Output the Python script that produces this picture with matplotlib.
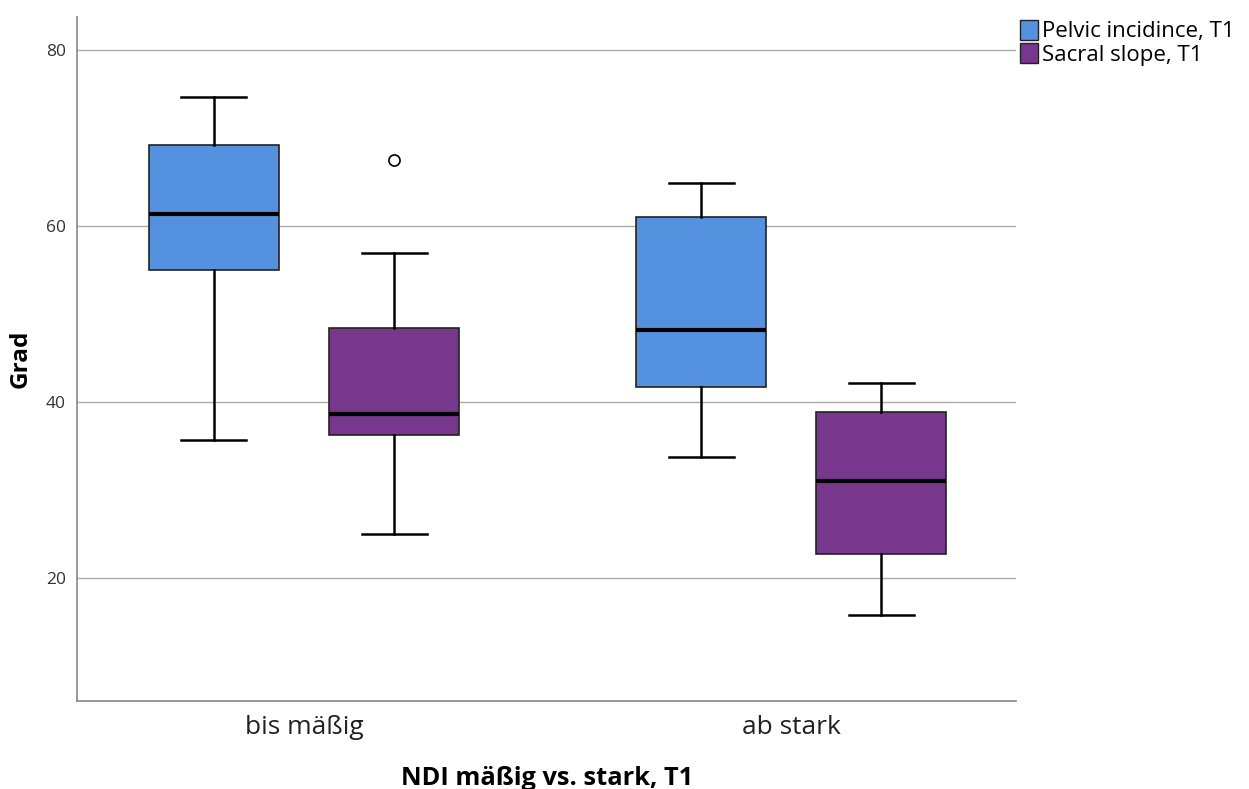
import matplotlib
matplotlib.use('Agg')
from matplotlib import pyplot as plt
from matplotlib.patches import Patch

# values (degrees)
categories = ['bis mäßig', 'ab stark']
series = ['Pelvic incidince, T1', 'Sacral slope, T1']
colors = ['#5492E0', '#76378D']

# per series: one entry per category
whislo = [[35.7, 33.7], [25.0, 15.8]]
q1 = [[55.0, 41.7], [36.2, 22.7]]
med = [[61.3, 48.2], [38.6, 31.0]]
q3 = [[69.2, 61.0], [48.4, 38.8]]
whishi = [[74.6, 64.9], [56.9, 42.2]]
fliers = [[[], []], [[67.5], []]]

yticks = [20, 40, 60, 80]

plt.rcParams['font.family'] = ['Open Sans', 'DejaVu Sans']

fig = plt.figure(figsize=(12.49, 7.89), dpi=100)
ax = fig.add_axes([0.0617, 0.1115, 0.752, 0.867])

offsets = [-0.185, 0.185]
width = 0.267

for s in range(len(series)):
    stats = []
    for c in range(len(categories)):
        stats.append(dict(whislo=whislo[s][c], q1=q1[s][c], med=med[s][c],
                          q3=q3[s][c], whishi=whishi[s][c], fliers=fliers[s][c]))
    pos = [c + offsets[s] for c in range(len(categories))]
    ax.bxp(stats, positions=pos, widths=width, patch_artist=True,
           boxprops=dict(facecolor=colors[s], edgecolor='#222222', linewidth=1.2),
           medianprops=dict(color='black', linewidth=3),
           whiskerprops=dict(color='black', linewidth=1.8),
           capprops=dict(color='black', linewidth=1.8),
           capwidths=width / 2,
           flierprops=dict(marker='o', markerfacecolor='white', markeredgecolor='black',
                           markersize=8, markeredgewidth=1.2),
           manage_ticks=False, zorder=3)

ax.set_xlim(-0.466, 1.462)
ax.set_ylim(6.0, 83.75)
ax.set_xticks(range(len(categories)))
ax.set_xticklabels(categories, fontsize=19, color='#222222')
ax.set_yticks(yticks)
ax.tick_params(axis='y', labelsize=12.5, length=0, pad=8, colors='#333333')
ax.tick_params(axis='x', length=0, pad=10)
ax.grid(axis='y', color='#aaaaaa', linewidth=1)
ax.set_axisbelow(True)

for side in ['top', 'right']:
    ax.spines[side].set_visible(False)
for side in ['left', 'bottom']:
    ax.spines[side].set_color('#888888')
    ax.spines[side].set_linewidth(1.2)

ax.set_ylabel('Grad', fontsize=17.5, fontweight='bold')
ax.yaxis.set_label_coords(-0.047, 0.5)
ax.set_xlabel('NDI mäßig vs. stark, T1', fontsize=18.3, fontweight='bold', va='baseline')
ax.xaxis.set_label_coords(0.5, -0.1228)

handles = [Patch(facecolor=col, edgecolor='#222222', label=lab) for col, lab in zip(colors, series)]
fig.legend(handles=handles, loc='upper left', bbox_to_anchor=(0.8165, 0.975), frameon=False,
           fontsize=16, handlelength=0.8, handleheight=1.0, handletextpad=0.22,
           labelspacing=0.05, borderaxespad=0, borderpad=0)

fig.savefig('out.png', dpi=100)
